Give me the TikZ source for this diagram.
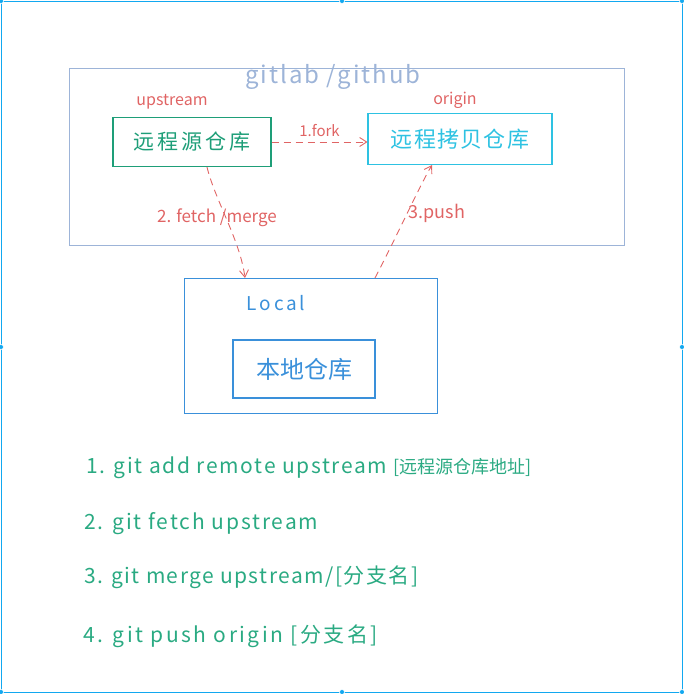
\documentclass[tikz,border=0pt]{standalone}
\usepackage{fontspec}
\setmainfont{Noto Sans CJK SC}
\usetikzlibrary{arrows.meta}
\definecolor{selblue}{HTML}{12A8F0}
\definecolor{framegray}{HTML}{9DB4D8}
\definecolor{hred}{HTML}{E06464}
\definecolor{hgreen}{HTML}{1E9E78}
\definecolor{hcyan}{HTML}{2EC2E2}
\definecolor{hblue}{HTML}{3A90DA}
\definecolor{lgreen}{HTML}{2AAA82}
\tikzset{
  fs/.style={font=\fontsize{#1}{#1}\selectfont},
  redlbl/.style={text=hred, inner sep=0pt},
  box/.style={draw, line width=1.1pt, inner sep=0pt},
  redarrow/.style={draw=hred, line width=0.9pt, dash pattern=on 7pt off 5pt, -{Straight Barb[length=7pt,width=9pt]}},
  listline/.style={text=lgreen, anchor=west, inner sep=0pt, fs=21},
  handle/.style={fill=selblue, draw=white, line width=0.6pt, circle, inner sep=0pt, minimum size=5pt}
}
\begin{document}
\begin{tikzpicture}[x=1pt,y=-1pt]
\useasboundingbox (0,0) rectangle (684,694);
% selection frame
\draw[selblue, line width=0.8pt] (1,1) rectangle (682,692);
\foreach \p [count=\i] in {(1,1),(342,1),(682,1),(1,347),(682,347),(1,692),(342,692),(682,692)}
  \node[handle] (h\i) at \p {};
% gitlab/github frame
\node[box, draw=framegray, line width=1.4pt, minimum width=555pt, minimum height=177pt] (cloud) at (347,157) {};
\node[text=framegray, fs=24, inner sep=0pt] (title) at (333,77) {\addfontfeature{LetterSpace=8}gitlab /github};
% upstream repo
\node[box, draw=hgreen, minimum width=158pt, minimum height=49pt, text=hgreen, fs=21] (up) at (192,142) {\addfontfeature{LetterSpace=14}远程源仓库};
\node[redlbl, fs=16] (uplbl) at (172,102) {upstream};
% origin repo
\node[box, draw=hcyan, minimum width=184pt, minimum height=51pt, text=hcyan, fs=22] (orig) at (460,139) {\addfontfeature{LetterSpace=6}远程拷贝仓库};
\node[redlbl, fs=16] (origlbl) at (455,100) {origin};
% local
\node[box, draw=hblue, minimum width=253pt, minimum height=135pt] (local) at (311,346) {};
\node[text=hblue, fs=19, inner sep=0pt] (locallbl) at (276,303) {\addfontfeature{LetterSpace=15}Local};
\node[box, draw=hblue, minimum width=142pt, minimum height=58pt, text=hblue, fs=24] (lrepo) at (304,369) {本地仓库};
% arrows
\draw[redarrow] (up.east) -- node[redlbl, fs=15, above=5pt] (forklbl) {1.fork} (orig.west |- up.east);
\draw[redarrow] ([xshift=15pt]up.south) .. controls (215,200) and (240,240) .. ([xshift=-66pt]local.north);
\node[redlbl, fs=17] (fmlbl) at (217,218) {2. fetch /merge};
\draw[redarrow] ([xshift=64pt]local.north) .. controls (395,240) and (420,185) .. ([xshift=-28pt]orig.south);
\node[redlbl, fs=18] (pushlbl) at (437,213) {3.push};
% command list
\node[listline] (c1) at (86,468) {\addfontfeature{LetterSpace=8}1. git add remote upstream {\fontsize{18}{18}\selectfont\addfontfeature{LetterSpace=0}[远程源仓库地址]}};
\node[listline] (c2) at (84,524) {\addfontfeature{LetterSpace=9}2. git fetch upstream};
\node[listline] (c3) at (84,577) {\addfontfeature{LetterSpace=7}3. git merge upstream/[分支名]};
\node[listline] (c4) at (83,636) {\addfontfeature{LetterSpace=12}4. git push origin [分支名]};
\end{tikzpicture}
\end{document}
